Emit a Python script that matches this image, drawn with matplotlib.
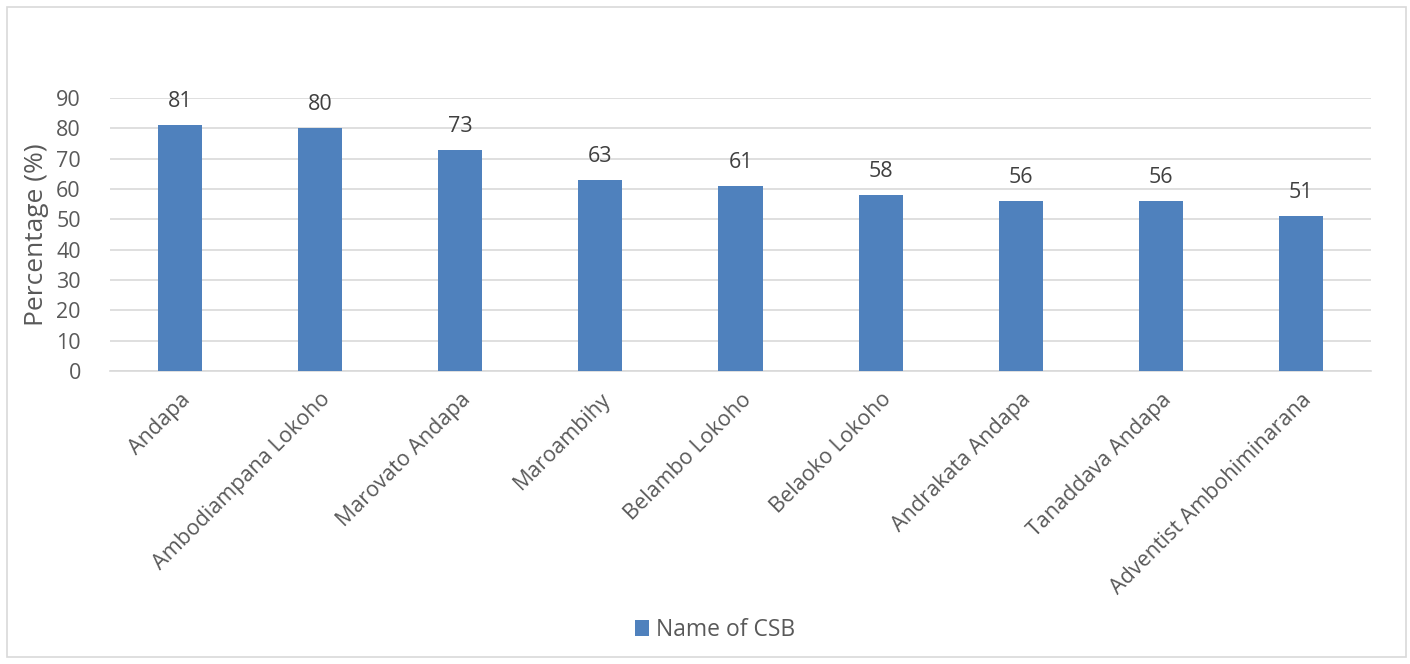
import numpy as np
import matplotlib.pyplot as plt
from matplotlib.patches import Rectangle

# CSB names and percentage values
csb_names = ["Andapa", "Ambodiampana Lokoho", "Marovato Andapa", "Maroambihy",
             "Belambo Lokoho", "Belaoko Lokoho", "Andrakata Andapa",
             "Tanaddava Andapa", "Adventist Ambohiminarana"]
percentages = [81, 80, 73, 63, 61, 58, 56, 56, 51]
y_ticks = [0, 10, 20, 30, 40, 50, 60, 70, 80, 90]

bar_color = "#4F81BD"
text_color = "#595959"

plt.rcParams['font.family'] = ['Open Sans', 'DejaVu Sans']

fig = plt.figure(figsize=(14.1, 6.64), dpi=100)
W, H = 1410, 664
ax = fig.add_axes([110 / W, 1 - 371 / H, (1371 - 110) / W, (371 - 98) / H])

x = np.arange(len(csb_names))
bars = ax.bar(x, percentages, width=0.315, color=bar_color, zorder=3,
              label="Name of CSB")

for xi, v in zip(x, percentages):
    ax.text(xi, v + 4.3, str(v), ha="center", va="bottom", fontsize=15.5,
            color="#404040")

ax.set_xlim(-0.5, len(csb_names) - 0.5)
ax.set_ylim(0, 90)
ax.set_yticks(y_ticks)
ax.set_yticklabels([str(t) for t in y_ticks], fontsize=15.5, color=text_color)
ax.set_xticks(x)
ax.set_xticklabels(csb_names, rotation=45, ha="right", rotation_mode="anchor",
                   fontsize=15.5, color=text_color)
ax.tick_params(axis="both", length=0)
ax.tick_params(axis="x", pad=13)
ax.tick_params(axis="y", pad=21)
ax.grid(axis="y", color="#D9D9D9", linewidth=1.2, zorder=0)
for side in ["top", "right", "left"]:
    ax.spines[side].set_visible(False)
ax.spines["bottom"].set_color("#D9D9D9")
ax.spines["bottom"].set_linewidth(1.2)

ax.set_ylabel("Percentage (%)", fontsize=19, color=text_color, labelpad=5)

fig.legend(handles=[bars], loc="center", bbox_to_anchor=(715 / W, 1 - 630 / H),
           frameon=False, fontsize=16.5, labelcolor=text_color,
           handlelength=0.65, handleheight=0.65, handletextpad=0.3)

# outer chart border
fig.patches.append(Rectangle((7 / W, 7 / H), 1399 / W, 650 / H,
                             transform=fig.transFigure, fill=False,
                             edgecolor="#D9D9D9", linewidth=1.2))

fig.savefig("out.png", dpi=100)
